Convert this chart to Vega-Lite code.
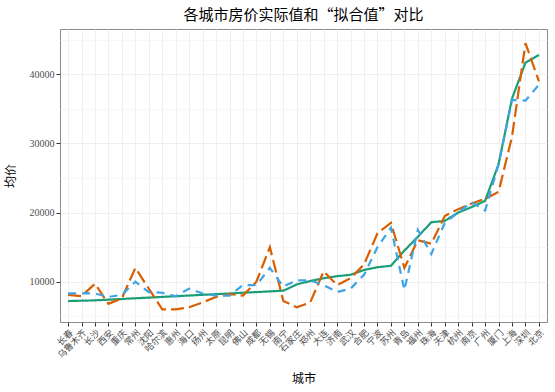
{
"$schema":"https://vega.github.io/schema/vega-lite/v6.json",
"autosize":"none",
"width":487,"height":293,
"padding":{"left":60,"top":29,"right":8,"bottom":70},
"background":"white",
"title":{"text":"各城市房价实际值和“拟合值”对比","anchor":"middle","fontSize":15,"fontWeight":"normal","font":"Noto Sans CJK SC","color":"#000000","offset":6},
"config":{"view":{"stroke":"#8c8c8c","strokeWidth":1},"font":"Liberation Serif"},
"datasets":{"rows":[
{"city":"长春","series":"实际值","value":7200},{"city":"长春","series":"拟合值1","value":8100},{"city":"长春","series":"拟合值2","value":8300},
{"city":"乌鲁木齐","series":"实际值","value":7250},{"city":"乌鲁木齐","series":"拟合值1","value":7900},{"city":"乌鲁木齐","series":"拟合值2","value":8300},
{"city":"长沙","series":"实际值","value":7300},{"city":"长沙","series":"拟合值1","value":9700},{"city":"长沙","series":"拟合值2","value":8300},
{"city":"西安","series":"实际值","value":7400},{"city":"西安","series":"拟合值1","value":6800},{"city":"西安","series":"拟合值2","value":7800},
{"city":"重庆","series":"实际值","value":7500},{"city":"重庆","series":"拟合值1","value":7600},{"city":"重庆","series":"拟合值2","value":8100},
{"city":"常州","series":"实际值","value":7600},{"city":"常州","series":"拟合值1","value":12000},{"city":"常州","series":"拟合值2","value":10000},
{"city":"沈阳","series":"实际值","value":7700},{"city":"沈阳","series":"拟合值1","value":9000},{"city":"沈阳","series":"拟合值2","value":8500},
{"city":"哈尔滨","series":"实际值","value":7800},{"city":"哈尔滨","series":"拟合值1","value":6000},{"city":"哈尔滨","series":"拟合值2","value":8400},
{"city":"惠州","series":"实际值","value":7900},{"city":"惠州","series":"拟合值1","value":6000},{"city":"惠州","series":"拟合值2","value":7900},
{"city":"海口","series":"实际值","value":8000},{"city":"海口","series":"拟合值1","value":6300},{"city":"海口","series":"拟合值2","value":9000},
{"city":"扬州","series":"实际值","value":8100},{"city":"扬州","series":"拟合值1","value":7000},{"city":"扬州","series":"拟合值2","value":8300},
{"city":"太原","series":"实际值","value":8200},{"city":"太原","series":"拟合值1","value":7800},{"city":"太原","series":"拟合值2","value":8000},
{"city":"昆明","series":"实际值","value":8300},{"city":"昆明","series":"拟合值1","value":8200},{"city":"昆明","series":"拟合值2","value":8000},
{"city":"佛山","series":"实际值","value":8400},{"city":"佛山","series":"拟合值1","value":8000},{"city":"佛山","series":"拟合值2","value":9500},
{"city":"成都","series":"实际值","value":8500},{"city":"成都","series":"拟合值1","value":10000},{"city":"成都","series":"拟合值2","value":9500},
{"city":"无锡","series":"实际值","value":8600},{"city":"无锡","series":"拟合值1","value":15000},{"city":"无锡","series":"拟合值2","value":12000},
{"city":"南宁","series":"实际值","value":8700},{"city":"南宁","series":"拟合值1","value":7200},{"city":"南宁","series":"拟合值2","value":9300},
{"city":"石家庄","series":"实际值","value":9600},{"city":"石家庄","series":"拟合值1","value":6300},{"city":"石家庄","series":"拟合值2","value":10200},
{"city":"郑州","series":"实际值","value":10100},{"city":"郑州","series":"拟合值1","value":7000},{"city":"郑州","series":"拟合值2","value":10200},
{"city":"大连","series":"实际值","value":10500},{"city":"大连","series":"拟合值1","value":11500},{"city":"大连","series":"拟合值2","value":9500},
{"city":"济南","series":"实际值","value":10800},{"city":"济南","series":"拟合值1","value":9500},{"city":"济南","series":"拟合值2","value":8500},
{"city":"武汉","series":"实际值","value":11000},{"city":"武汉","series":"拟合值1","value":10500},{"city":"武汉","series":"拟合值2","value":9000},
{"city":"合肥","series":"实际值","value":11700},{"city":"合肥","series":"拟合值1","value":12500},{"city":"合肥","series":"拟合值2","value":11000},
{"city":"宁波","series":"实际值","value":12100},{"city":"宁波","series":"拟合值1","value":17000},{"city":"宁波","series":"拟合值2","value":15000},
{"city":"苏州","series":"实际值","value":12300},{"city":"苏州","series":"拟合值1","value":18500},{"city":"苏州","series":"拟合值2","value":17800},
{"city":"青岛","series":"实际值","value":14500},{"city":"青岛","series":"拟合值1","value":12000},{"city":"青岛","series":"拟合值2","value":8800},
{"city":"福州","series":"实际值","value":16500},{"city":"福州","series":"拟合值1","value":16000},{"city":"福州","series":"拟合值2","value":17500},
{"city":"珠海","series":"实际值","value":18600},{"city":"珠海","series":"拟合值1","value":15500},{"city":"珠海","series":"拟合值2","value":14000},
{"city":"天津","series":"实际值","value":18800},{"city":"天津","series":"拟合值1","value":19500},{"city":"天津","series":"拟合值2","value":18500},
{"city":"杭州","series":"实际值","value":20000},{"city":"杭州","series":"拟合值1","value":20500},{"city":"杭州","series":"拟合值2","value":20000},
{"city":"南京","series":"实际值","value":20800},{"city":"南京","series":"拟合值1","value":21300},{"city":"南京","series":"拟合值2","value":21500},
{"city":"广州","series":"实际值","value":21700},{"city":"广州","series":"拟合值1","value":22000},{"city":"广州","series":"拟合值2","value":20300},
{"city":"厦门","series":"实际值","value":27000},{"city":"厦门","series":"拟合值1","value":23000},{"city":"厦门","series":"拟合值2","value":27000},
{"city":"上海","series":"实际值","value":36500},{"city":"上海","series":"拟合值1","value":31000},{"city":"上海","series":"拟合值2","value":36300},
{"city":"深圳","series":"实际值","value":41700},{"city":"深圳","series":"拟合值1","value":44500},{"city":"深圳","series":"拟合值2","value":36200},
{"city":"北京","series":"实际值","value":42800},{"city":"北京","series":"拟合值1","value":39000},{"city":"北京","series":"拟合值2","value":38500}
]},
"data":{"name":"rows"},
"mark":{"type":"line","strokeWidth":2.2},
"encoding":{
"x":{"field":"city","type":"nominal","sort":null,
"scale":{"type":"point","padding":0.6},
"axis":{"title":"城市","titleFont":"Noto Sans CJK SC","titleFontSize":12,"titleFontWeight":"normal","titleColor":"#000000","titlePadding":14,
"labelAngle":-45,"labelFont":"Noto Sans CJK SC","labelFontSize":9,"labelColor":"#4d4d4d","labelPadding":2,
"tickColor":"#333333","tickSize":4,"domain":false,"grid":true,"gridColor":"#ebebeb","gridWidth":0.8}},
"y":{"field":"value","type":"quantitative",
"scale":{"domain":[4170,46560],"nice":false,"zero":false},
"axis":{"title":"均价","titleFont":"Noto Sans CJK SC","titleFontSize":12,"titleFontWeight":"normal","titleColor":"#000000","titlePadding":12,
"values":[5000,10000,15000,20000,25000,30000,35000,40000,45000],
"labelExpr":"datum.value % 10000 === 0 ? datum.value : ''",
"labelFont":"Liberation Serif","labelFontSize":10,"labelColor":"#4d4d4d","labelPadding":2,
"tickColor":{"condition":{"test":"datum.value % 10000 === 0","value":"#333333"},"value":"transparent"},
"tickSize":4,"domain":false,"grid":true,
"gridColor":{"condition":{"test":"datum.value % 10000 === 0","value":"#ebebeb"},"value":"#f5f5f5"},"gridWidth":0.8}},
"color":{"field":"series","type":"nominal","legend":null,
"scale":{"domain":["实际值","拟合值1","拟合值2"],"range":["#1B9E77","#D95F02","#3FA4E6"]}},
"strokeDash":{"field":"series","type":"nominal","legend":null,
"scale":{"domain":["实际值","拟合值1","拟合值2"],"range":[[1,0],[13,5],[8,6]]}}
}
}
